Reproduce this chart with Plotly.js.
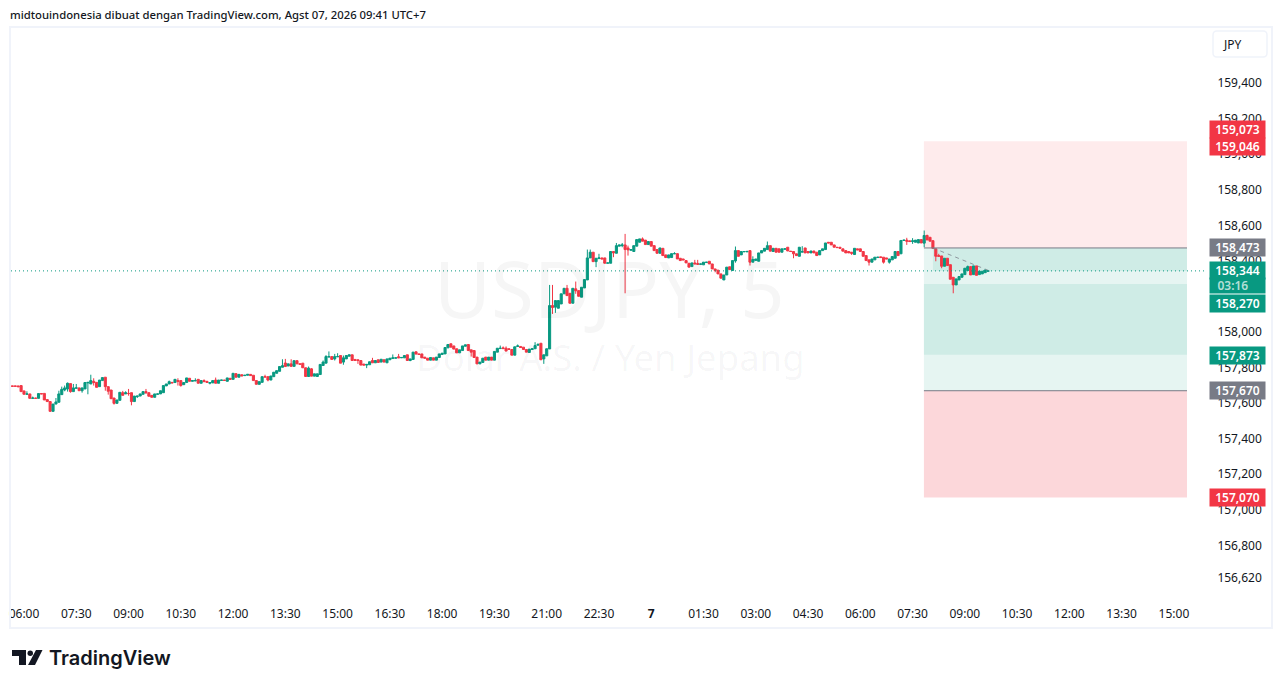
<!DOCTYPE html>
<html>
<head>
<meta charset="utf-8">
<script src="https://cdn.plot.ly/plotly-3.0.1.min.js"></script>
<style>
    html, body { margin: 0; padding: 0; background: #fff; }
</style>
</head>
<body>
<div id="chart"></div>
<script>
// USD/JPY 5 minute bars, bar 0 is the 06:00 tick
const firstBar = -5;
const opens = [
    157.695,157.697,157.697,157.697,157.699,157.669,157.65,157.652,157.627,157.629,157.627,157.654,157.655,157.62,157.609,157.554,157.595,157.605,157.648,157.674,
    157.68,157.71,157.665,157.684,157.686,157.67,157.68,157.714,157.708,157.723,157.717,157.693,157.727,157.746,157.693,157.674,157.629,157.599,157.616,157.659,
    157.652,157.655,157.659,157.609,157.637,157.64,157.65,157.665,157.659,157.644,157.633,157.65,157.652,157.659,157.697,157.708,157.717,157.716,157.727,157.727,
    157.704,157.716,157.74,157.723,157.725,157.734,157.712,157.727,157.723,157.712,157.714,157.73,157.712,157.728,157.73,157.723,157.74,157.734,157.766,157.746,
    157.76,157.755,157.757,157.762,157.757,157.727,157.706,157.717,157.749,157.749,157.73,157.749,157.768,157.779,157.802,157.826,157.809,157.821,157.807,157.839,157.821,
    157.825,157.799,157.75,157.793,157.752,157.75,157.761,157.812,157.825,157.859,157.862,157.849,157.861,157.868,157.831,157.849,157.864,157.872,157.846,157.844,
    157.84,157.82,157.814,157.816,157.84,157.827,157.844,157.831,157.844,157.827,157.844,157.851,157.853,157.861,157.855,157.855,157.872,157.84,157.846,157.889,
    157.877,157.877,157.859,157.853,157.842,157.855,157.842,157.857,157.874,157.877,157.911,157.934,157.922,157.906,157.883,157.896,157.92,157.93,157.9,157.896,
    157.859,157.821,157.829,157.859,157.842,157.859,157.842,157.887,157.907,157.911,157.909,157.906,157.902,157.87,157.919,157.919,157.915,157.902,157.885,157.902,
    157.906,157.926,157.937,157.849,157.866,157.905,
    158.149,158.14,158.134,158.158,158.215,158.246,158.218,158.162,158.243,158.233,158.196,158.248,158.293,158.417,158.449,158.396,158.413,158.417,158.417,
    158.387,158.387,158.453,158.443,158.483,158.486,158.49,158.473,158.46,158.453,158.483,158.505,158.524,158.517,158.492,158.509,158.486,158.464,158.443,158.471,
    158.434,158.417,158.419,158.44,158.441,158.415,158.411,158.402,158.387,158.368,158.389,158.385,158.381,158.378,158.391,158.398,158.383,158.355,158.348,158.327,
    158.293,158.321,158.367,158.346,158.4,158.458,158.434,158.451,158.451,158.458,158.393,158.402,158.398,158.445,158.455,158.464,158.486,158.453,158.471,158.468,
    158.449,158.466,158.477,158.455,158.453,158.44,158.426,158.449,158.473,158.453,158.445,158.456,158.449,158.434,158.458,158.464,158.505,158.505,158.49,158.477,
    158.477,158.468,158.458,158.453,158.449,158.436,158.468,158.468,158.453,158.43,158.406,158.393,158.406,158.419,158.423,158.421,158.417,158.393,158.406,158.415,
    158.453,158.44,158.515,158.517,158.513,158.509,158.505,158.501,158.52,
    158.5,158.543,158.533,158.514,158.468,158.43,158.428,158.37,158.415,158.379,158.308,158.265,158.293,158.308,158.323,158.346,158.368,158.323,158.372,158.323,158.327,158.334,158.342
];
const highs = [
    157.702,157.697,157.697,157.697,157.699,157.669,157.667,157.652,157.637,157.629,157.654,157.654,157.655,157.62,157.609,157.595,157.629,157.67,157.693,157.699,
    157.716,157.71,157.708,157.708,157.686,157.686,157.717,157.717,157.76,157.74,157.717,157.73,157.744,157.746,157.693,157.674,157.629,157.618,157.661,157.669,
    157.667,157.68,157.659,157.64,157.64,157.652,157.665,157.68,157.659,157.644,157.652,157.652,157.67,157.699,157.708,157.727,157.717,157.734,157.74,157.727,
    157.716,157.742,157.74,157.727,157.74,157.734,157.727,157.734,157.723,157.716,157.727,157.744,157.73,157.73,157.73,157.742,157.74,157.768,157.766,157.762,
    157.76,157.757,157.762,157.762,157.757,157.727,157.721,157.749,157.76,157.749,157.753,157.774,157.783,157.806,157.847,157.849,157.821,157.847,157.839,157.839,157.821,
    157.825,157.799,157.806,157.797,157.765,157.765,157.818,157.84,157.87,157.891,157.862,157.877,157.881,157.868,157.868,157.868,157.872,157.872,157.846,157.844,
    157.84,157.82,157.818,157.833,157.855,157.84,157.844,157.847,157.844,157.849,157.853,157.874,157.855,157.877,157.857,157.868,157.872,157.849,157.887,157.889,
    157.877,157.877,157.859,157.853,157.857,157.855,157.859,157.877,157.881,157.913,157.93,157.934,157.922,157.906,157.9,157.922,157.928,157.93,157.9,157.896,
    157.859,157.831,157.853,157.859,157.859,157.859,157.891,157.909,157.924,157.919,157.919,157.906,157.902,157.917,157.93,157.919,157.915,157.902,157.904,157.906,
    157.943,157.937,157.937,157.872,157.906,158.265,
    158.265,158.177,158.18,158.215,158.246,158.265,158.218,158.246,158.284,158.233,158.252,158.295,158.464,158.464,158.449,158.415,158.44,158.417,158.417,
    158.389,158.453,158.453,158.501,158.49,158.501,158.552,158.486,158.464,158.486,158.52,158.524,158.532,158.517,158.509,158.509,158.486,158.464,158.473,158.471,
    158.434,158.434,158.441,158.449,158.441,158.415,158.411,158.402,158.387,158.389,158.406,158.406,158.383,158.393,158.393,158.398,158.383,158.355,158.348,158.327,
    158.321,158.365,158.367,158.402,158.481,158.458,158.453,158.453,158.458,158.458,158.426,158.411,158.445,158.458,158.471,158.509,158.486,158.471,158.471,158.468,
    158.468,158.468,158.477,158.455,158.453,158.44,158.477,158.483,158.473,158.453,158.456,158.456,158.449,158.458,158.468,158.501,158.505,158.505,158.49,158.477,
    158.477,158.468,158.458,158.453,158.449,158.471,158.468,158.468,158.453,158.43,158.406,158.411,158.421,158.421,158.423,158.421,158.417,158.411,158.425,158.453,
    158.453,158.515,158.517,158.53,158.513,158.528,158.517,158.52,158.52,
    158.571,158.548,158.533,158.514,158.468,158.44,158.428,158.415,158.415,158.379,158.308,158.299,158.312,158.327,158.359,158.374,158.368,158.372,158.372,158.342,158.342,158.349,158.346
];
const lows = [
    157.695,157.695,157.695,157.689,157.665,157.65,157.65,157.627,157.627,157.627,157.627,157.652,157.618,157.609,157.554,157.554,157.595,157.605,157.648,157.667,
    157.665,157.659,157.665,157.684,157.67,157.659,157.68,157.65,157.708,157.699,157.689,157.693,157.727,157.67,157.648,157.625,157.592,157.599,157.616,157.644,
    157.652,157.642,157.588,157.609,157.629,157.64,157.65,157.652,157.639,157.633,157.633,157.65,157.652,157.659,157.697,157.708,157.714,157.716,157.699,157.693,
    157.704,157.716,157.723,157.723,157.725,157.712,157.712,157.721,157.717,157.706,157.714,157.712,157.712,157.728,157.728,157.723,157.734,157.734,157.746,157.746,
    157.753,157.755,157.757,157.755,157.727,157.706,157.706,157.717,157.747,157.723,157.73,157.749,157.768,157.779,157.802,157.806,157.809,157.807,157.807,157.821,157.819,
    157.799,157.75,157.75,157.752,157.752,157.75,157.761,157.812,157.825,157.859,157.846,157.84,157.861,157.825,157.816,157.849,157.864,157.84,157.84,157.821,
    157.814,157.814,157.797,157.816,157.827,157.827,157.829,157.831,157.831,157.827,157.844,157.851,157.853,157.855,157.855,157.855,157.84,157.836,157.846,157.876,
    157.874,157.855,157.853,157.842,157.842,157.842,157.842,157.857,157.874,157.877,157.911,157.915,157.904,157.883,157.883,157.896,157.92,157.896,157.862,157.857,
    157.821,157.821,157.829,157.842,157.842,157.842,157.842,157.887,157.907,157.907,157.893,157.902,157.87,157.87,157.919,157.913,157.902,157.887,157.885,157.902,
    157.906,157.926,157.844,157.821,157.866,157.905,
    158.102,158.108,158.134,158.158,158.215,158.205,158.162,158.162,158.215,158.201,158.196,158.248,158.293,158.417,158.396,158.365,158.413,158.411,158.387,
    158.387,158.387,158.421,158.443,158.483,158.477,158.218,158.43,158.46,158.453,158.483,158.505,158.511,158.492,158.492,158.483,158.458,158.443,158.443,158.43,
    158.419,158.417,158.419,158.44,158.411,158.402,158.406,158.389,158.365,158.368,158.383,158.381,158.381,158.378,158.391,158.383,158.355,158.336,158.327,158.303,
    158.293,158.321,158.351,158.346,158.39,158.426,158.434,158.451,158.451,158.374,158.393,158.402,158.398,158.445,158.455,158.464,158.455,158.453,158.449,158.449,
    158.449,158.466,158.456,158.453,158.415,158.43,158.426,158.449,158.445,158.445,158.445,158.445,158.43,158.434,158.458,158.464,158.501,158.49,158.477,158.475,
    158.471,158.455,158.445,158.445,158.434,158.436,158.462,158.453,158.426,158.402,158.374,158.393,158.406,158.419,158.419,158.385,158.411,158.385,158.406,158.415,
    158.43,158.44,158.515,158.49,158.509,158.496,158.505,158.501,158.501,
    158.477,158.518,158.511,158.471,158.398,158.426,158.359,158.37,158.374,158.297,158.218,158.265,158.293,158.308,158.323,158.346,158.321,158.323,158.319,158.323,158.327,158.334,158.342
];
const closes = [
    157.702,157.695,157.695,157.693,157.665,157.65,157.652,157.627,157.629,157.627,157.654,157.652,157.618,157.609,157.554,157.595,157.607,157.652,157.678,157.686,
    157.712,157.665,157.686,157.686,157.67,157.686,157.716,157.717,157.727,157.716,157.689,157.73,157.744,157.693,157.667,157.625,157.599,157.618,157.661,157.644,
    157.659,157.654,157.609,157.64,157.64,157.652,157.665,157.659,157.639,157.633,157.652,157.652,157.67,157.699,157.708,157.721,157.714,157.734,157.723,157.699,
    157.716,157.742,157.723,157.727,157.727,157.712,157.727,157.721,157.717,157.716,157.727,157.712,157.73,157.73,157.728,157.742,157.734,157.768,157.746,157.762,
    157.753,157.757,157.762,157.755,157.727,157.706,157.721,157.749,157.747,157.73,157.753,157.774,157.783,157.806,157.811,157.806,157.821,157.807,157.839,157.821,157.819,
    157.799,157.75,157.797,157.752,157.765,157.765,157.818,157.831,157.862,157.862,157.846,157.862,157.862,157.825,157.855,157.868,157.872,157.84,157.84,157.84,
    157.814,157.814,157.818,157.833,157.827,157.84,157.829,157.847,157.831,157.849,157.853,157.855,157.855,157.855,157.857,157.868,157.84,157.849,157.887,157.876,
    157.874,157.855,157.853,157.842,157.857,157.842,157.859,157.877,157.881,157.913,157.93,157.915,157.904,157.883,157.9,157.922,157.928,157.896,157.887,157.857,
    157.821,157.831,157.853,157.842,157.859,157.842,157.891,157.909,157.909,157.907,157.893,157.902,157.87,157.917,157.922,157.913,157.902,157.887,157.904,157.906,
    157.924,157.93,157.844,157.872,157.906,158.149,
    158.138,158.177,158.177,158.215,158.246,158.205,158.162,158.246,158.232,158.201,158.252,158.295,158.417,158.449,158.396,158.415,158.417,158.411,158.387,
    158.389,158.453,158.445,158.486,158.49,158.49,158.464,158.462,158.464,158.486,158.52,158.524,158.511,158.492,158.509,158.483,158.458,158.443,158.473,158.43,
    158.419,158.434,158.441,158.441,158.411,158.402,158.406,158.389,158.365,158.389,158.383,158.381,158.383,158.393,158.393,158.383,158.355,158.346,158.327,158.303,
    158.321,158.365,158.351,158.402,158.458,158.426,158.453,158.453,158.453,158.393,158.408,158.411,158.445,158.458,158.471,158.486,158.455,158.471,158.449,158.449,
    158.468,158.468,158.456,158.453,158.44,158.43,158.477,158.453,158.445,158.445,158.456,158.445,158.43,158.458,158.468,158.501,158.501,158.49,158.477,158.475,
    158.471,158.455,158.445,158.445,158.443,158.471,158.462,158.453,158.426,158.402,158.393,158.411,158.421,158.421,158.419,158.393,158.411,158.411,158.425,158.453,
    158.43,158.515,158.517,158.511,158.509,158.513,158.517,158.52,158.501,
    158.543,158.518,158.511,158.471,158.426,158.426,158.37,158.415,158.374,158.297,158.265,158.299,158.312,158.327,158.359,158.368,158.321,158.372,158.319,158.342,158.342,158.349,158.344
];

const xTickBars = [0,18,36,54,72,90,108,126,144,162,180,198,216,234,252,270,288,306,324,342,360,378,396];
const xTickLabels = ['06:00','07:30','09:00','10:30','12:00','13:30','15:00','16:30','18:00','19:30','21:00','22:30','<b>7</b>',
    '01:30','03:00','04:30','06:00','07:30','09:00','10:30','12:00','13:30','15:00'];
const yTickValues = [159.4,159.2,159.0,158.8,158.6,158.4,158.0,157.8,157.6,157.4,157.2,157.0,156.8,156.62];

// price tags on the right hand scale
const tagPrices = [159.073,159.046,158.473,158.344,158.344,158.27,157.873,157.67,157.07];
const tagLabels = ['159,073','159,046','158,473','158,344','03:16\u00a0\u00a0\u00a0','158,270','157,873','157,670','157,070'];
const tagColors = ['#f23645','#f23645','#787b86','#089981','#089981','#089981','#089981','#787b86','#f23645'];
const tagShifts = [12,0,0,0,-15,-19,-1,0,0];

// the two position tools
const shortEntry = 158.473, shortStop = 159.073, shortTarget = 157.873;
const longEntry = 157.67, longStop = 157.07, longTarget = 158.27;
const lastPrice = 158.344;
const toolLeft = 309.9, toolRight = 400.5, pnlLeft = 313, lastBar = 332.5;

const FONT = '"Noto Sans", "Open Sans", sans-serif';
const WIDTH = 1281, HEIGHT = 688;
const margin = {l: 11, r: 76, t: 28, b: 88, pad: 0};
const GREEN = '#089981', RED = '#f23645';

// pixel to paper helpers, used for the frame and the logo only
const paperX = x => (x - margin.l) / (WIDTH - margin.l - margin.r);
const paperY = y => 1 - (y - margin.t) / (HEIGHT - margin.t - margin.b);

function band(x0, x1, y0, y1, color) {
    return {type: 'rect', xref: 'x', yref: 'y', x0: x0, x1: x1, y0: y0, y1: y1,
        fillcolor: color, line: {width: 0}, layer: 'below'};
}

function pxPath(points, fill) {
    const d = points.map((p, i) => (i ? 'L' : 'M') + paperX(p[0]) + ',' + paperY(p[1])).join(' ') + ' Z';
    return {type: 'path', xref: 'paper', yref: 'paper', path: d, fillcolor: fill, line: {width: 0}};
}

function note(text, x, y, font, xanchor) {
    return {text: text, xref: 'paper', yref: 'paper', x: paperX(x), y: paperY(y), xanchor: xanchor || 'center',
        yanchor: 'middle', showarrow: false, font: font};
}

const teal = 'rgba(8,153,129,0.1)';
const shapes = [
    band(toolLeft, toolRight, shortEntry, shortStop, 'rgba(242,54,69,0.1)'),
    band(toolLeft, toolRight, shortEntry, shortTarget, teal),
    band(toolLeft, toolRight, longEntry, longTarget, teal),
    band(pnlLeft, toolRight, shortEntry, lastPrice, teal),
    band(toolLeft, toolRight, longEntry, longStop, 'rgba(242,54,69,0.2)'),
    {type: 'line', xref: 'x', yref: 'y', x0: toolLeft, x1: toolRight, y0: shortEntry, y1: shortEntry, line: {color: '#787b86', width: 1}},
    {type: 'line', xref: 'x', yref: 'y', x0: toolLeft, x1: toolRight, y0: longEntry, y1: longEntry, line: {color: '#787b86', width: 1}},
    {type: 'line', xref: 'x', yref: 'y', x0: pnlLeft, x1: lastBar, y0: shortEntry, y1: lastPrice, line: {color: 'rgba(120,123,134,0.75)', width: 1, dash: '4px,4px'}},
    {type: 'line', xref: 'paper', yref: 'y', x0: 0, x1: 1, y0: lastPrice, y1: lastPrice, line: {color: GREEN, width: 1, dash: '1px,3px'}},
    // frame round the pane
    {type: 'rect', xref: 'paper', yref: 'paper', x0: paperX(10), x1: paperX(1272), y0: paperY(27), y1: paperY(628),
        line: {color: '#f0f3fa', width: 2}},
    // currency button
    {type: 'path', xref: 'paper', yref: 'paper', line: {color: '#f0f3fa', width: 1.5},
        path: ['M', paperX(1217), paperY(31), 'L', paperX(1263), paperY(31), 'Q', paperX(1267), paperY(31), paperX(1267), paperY(35),
            'L', paperX(1267), paperY(53), 'Q', paperX(1267), paperY(57), paperX(1263), paperY(57),
            'L', paperX(1217), paperY(57), 'Q', paperX(1213), paperY(57), paperX(1213), paperY(53),
            'L', paperX(1213), paperY(35), 'Q', paperX(1213), paperY(31), paperX(1217), paperY(31), 'Z'].join(' ')},
    // logo
    pxPath([[12,650],[26,650],[26,665],[19,665],[19,656],[12,656]], '#131722'),
    pxPath([[36,650],[42.5,650],[35,665],[28,665]], '#131722'),
    {type: 'circle', xref: 'paper', yref: 'paper', x0: paperX(27.5), x1: paperX(33), y0: paperY(650.5), y1: paperY(656),
        fillcolor: '#131722', line: {width: 0}}
];

const annotations = [
    note('USDJPY, 5', 609, 288, {family: FONT, size: 78, color: 'rgba(19,23,34,0.04)'}),
    note('Dolar A.S. / Yen Jepang', 610, 357, {family: FONT, size: 36.5, color: 'rgba(19,23,34,0.04)'}),
    note('midtouindonesia dibuat dengan TradingView.com, Agst 07, 2026 09:41 UTC+7', 8, 14,
        {family: FONT, size: 11.3, color: '#131722', weight: 500}, 'left'),
    note('JPY', 1232, 44, {family: FONT, size: 12, color: '#131722'}),
    note('TradingView', 47, 658, {family: 'Inter, Roboto, sans-serif', size: 20, color: '#131722', weight: 600}, 'left')
];
tagPrices.forEach((price, i) => {
    annotations.push({
        text: tagLabels[i], xref: 'paper', yref: 'y', x: paperX(1237.5), y: price, yshift: tagShifts[i], showarrow: false,
        xanchor: 'center', yanchor: 'middle',
        width: 55, height: i === 4 ? 15 : 17, borderpad: 0, bgcolor: tagColors[i], align: 'center',
        font: {family: FONT, size: 12, weight: 600, color: i === 4 ? 'rgba(255,255,255,0.7)' : '#ffffff'}
    });
});

const candles = {
    type: 'candlestick',
    x: opens.map((_, k) => firstBar + k),
    open: opens,
    high: highs,
    low: lows,
    close: closes,
    whiskerwidth: 0,
    hoverinfo: 'skip',
    increasing: {line: {color: GREEN, width: 1}, fillcolor: GREEN},
    decreasing: {line: {color: RED, width: 1}, fillcolor: RED}
};

const layout = {
    width: WIDTH,
    height: HEIGHT,
    margin: margin,
    paper_bgcolor: '#ffffff',
    plot_bgcolor: '#ffffff',
    showlegend: false,
    separators: ',.',
    boxgap: 0.1,
    boxgroupgap: 0.2,
    xaxis: {
        range: [-4.48, 406.7],
        rangeslider: {visible: false},
        tickmode: 'array',
        tickvals: xTickBars,
        ticktext: xTickLabels,
        ticks: 'outside',
        ticklen: 3,
        tickcolor: 'rgba(0,0,0,0)',
        showgrid: false,
        zeroline: false,
        showline: false,
        tickangle: 0,
        tickfont: {family: FONT, size: 12, color: '#131722'}
    },
    yaxis: {
        side: 'right',
        range: [156.493, 159.71],
        tickmode: 'array',
        tickvals: yTickValues,
        tickformat: ',.3f',
        ticks: 'outside',
        ticklen: 9,
        tickcolor: 'rgba(0,0,0,0)',
        showgrid: false,
        zeroline: false,
        showline: false,
        tickfont: {family: FONT, size: 12, color: '#131722'}
    },
    shapes: shapes,
    annotations: annotations
};

Plotly.newPlot('chart', [candles], layout, {displayModeBar: false, staticPlot: true});
</script>
</body>
</html>
